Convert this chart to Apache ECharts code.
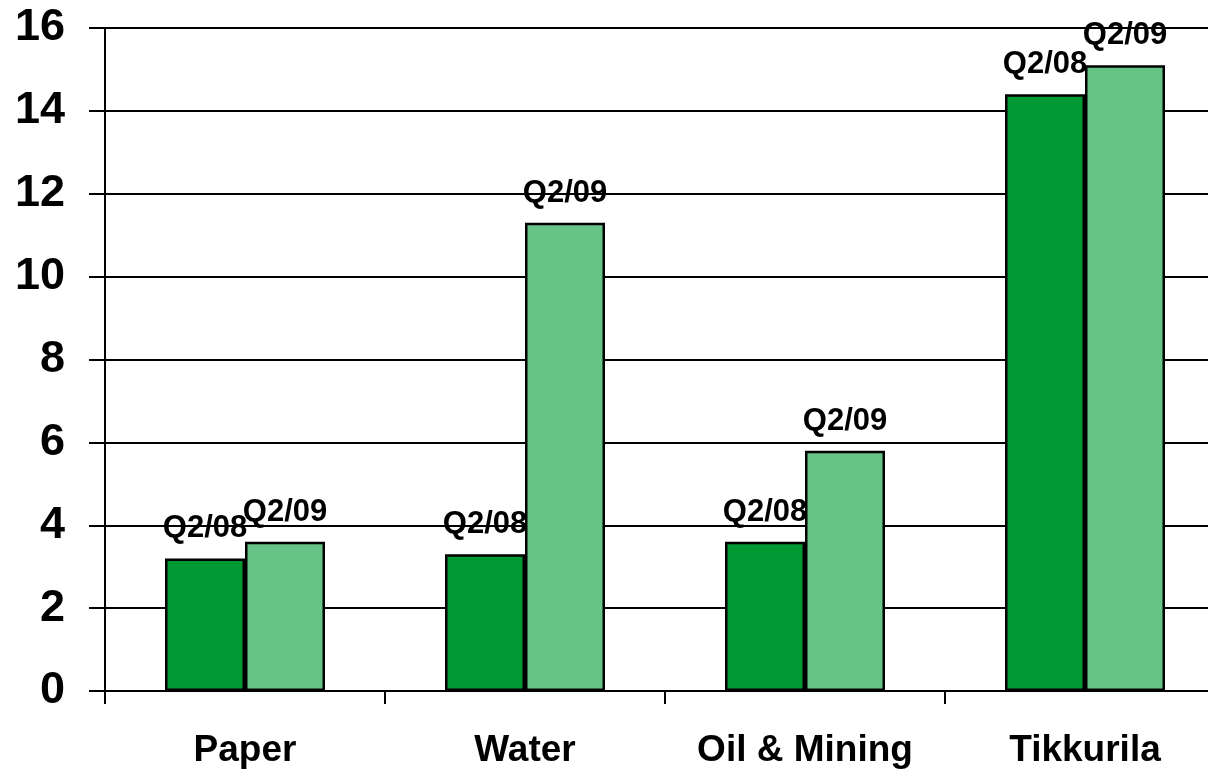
<!DOCTYPE html>
<html>
<head>
<meta charset="utf-8">
<script src="https://cdn.jsdelivr.net/npm/echarts@6/dist/echarts.min.js"></script>
<style>
  html, body { margin: 0; padding: 0; background: #fff; overflow: hidden; }
  /* plot runs past the right edge in the original, so the canvas is a bit wider than the window */
  #chart { width: 1226px; height: 769px; }
</style>
</head>
<body>
<div id="chart"></div>
<script>
var categories = ['Paper', 'Water', 'Oil & Mining', 'Tikkurila'];
var seriesNames = ['Q2/08', 'Q2/09'];
var q208 = [3.2, 3.3, 3.6, 14.4];
var q209 = [3.6, 11.3, 5.8, 15.1];
var yTicks = [0, 2, 4, 6, 8, 10, 12, 14, 16];

var font = 'Liberation Sans, Arial, sans-serif';

function barSeries(name, data, color) {
    return {
        name: name,
        type: 'bar',
        data: data,
        barWidth: 80,
        barGap: '0%',
        itemStyle: { color: color, borderColor: '#000', borderWidth: 2.5 },
        label: {
            show: true,
            position: 'top',
            distance: 14,
            formatter: '{a}',
            color: '#000',
            fontFamily: font,
            fontWeight: 'bold',
            fontSize: 31
        }
    };
}

var myChart = echarts.init(document.getElementById('chart'));
var option = {
    animation: false,
    backgroundColor: '#fff',
    grid: { left: 105, top: 28, bottom: 78, width: 1120 },
    xAxis: {
        type: 'category',
        data: categories,
        axisLine: { lineStyle: { color: '#000', width: 2 } },
        axisTick: { show: true, alignWithLabel: false, interval: 0, length: 13, lineStyle: { color: '#000', width: 2 } },
        axisLabel: {
            interval: 0,
            color: '#000', fontFamily: font, fontWeight: 'bold', fontSize: 37, margin: 41
        }
    },
    yAxis: {
        type: 'value',
        min: yTicks[0],
        max: yTicks[yTicks.length - 1],
        interval: 2,
        axisLine: { show: true, lineStyle: { color: '#000', width: 2 } },
        axisTick: { show: true, length: 16, lineStyle: { color: '#000', width: 2 } },
        splitLine: { lineStyle: { color: '#000', width: 2 } },
        axisLabel: {
            color: '#000', fontFamily: font, fontWeight: 'bold', fontSize: 45, margin: 40
        }
    },
    series: [
        barSeries(seriesNames[0], q208, '#009933'),
        barSeries(seriesNames[1], q209, '#66C486')
    ]
};
myChart.setOption(option);
</script>
</body>
</html>
